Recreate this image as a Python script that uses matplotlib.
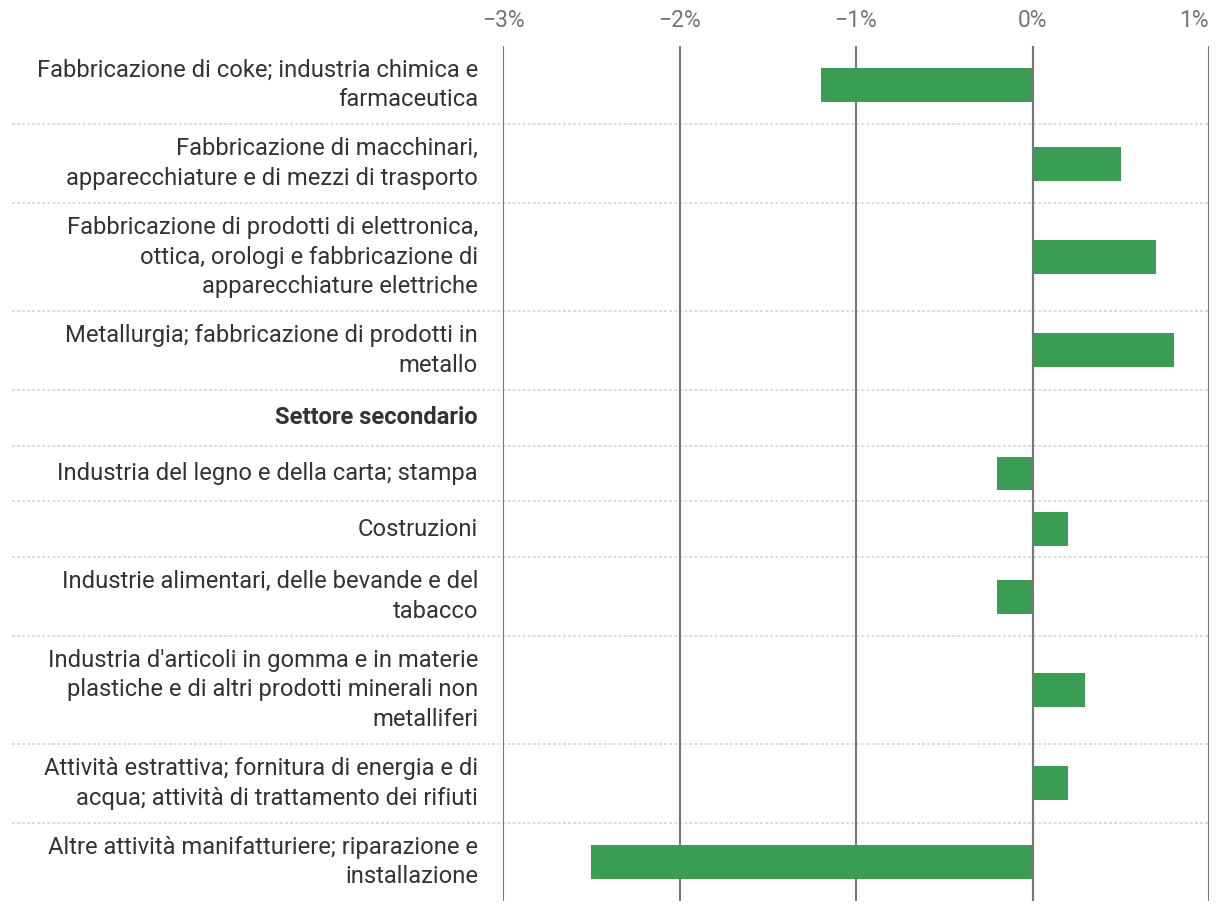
import numpy as np
import matplotlib
matplotlib.use("Agg")
import matplotlib.pyplot as plt

plt.rcParams['font.family'] = ['Roboto', 'DejaVu Sans']

# data
labels = [
    "Fabbricazione di coke; industria chimica e\nfarmaceutica",
    "Fabbricazione di macchinari,\napparecchiature e di mezzi di trasporto",
    "Fabbricazione di prodotti di elettronica,\nottica, orologi e fabbricazione di\napparecchiature elettriche",
    "Metallurgia; fabbricazione di prodotti in\nmetallo",
    "Settore secondario",
    "Industria del legno e della carta; stampa",
    "Costruzioni",
    "Industrie alimentari, delle bevande e del\ntabacco",
    "Industria d'articoli in gomma e in materie\nplastiche e di altri prodotti minerali non\nmetalliferi",
    "Attività estrattiva; fornitura di energia e di\nacqua; attività di trattamento dei rifiuti",
    "Altre attività manifatturiere; riparazione e\ninstallazione",
]
values = [-1.2, 0.5, 0.7, 0.8, np.nan, -0.2, 0.2, -0.2, 0.3, 0.2, -2.5]
bold_labels = ["Settore secondario"]
tick_values = [-3, -2, -1, 0, 1]
tick_labels = ["\u22123%", "\u22122%", "\u22121%", "0%", "1%"]

# row heights (pixels) depend on how many lines the label has
row_height = {1: 56, 2: 78.5, 3: 108.5}
heights = [row_height[lab.count("\n") + 1] for lab in labels]
bounds = np.concatenate([[0], np.cumsum(heights)])
centers = (bounds[:-1] + bounds[1:]) / 2

fig = plt.figure(figsize=(12.2, 9.14), dpi=100)
ax = fig.add_axes([503 / 1220, 13 / 914, 706 / 1220, 855 / 914])

ax.set_xlim(-3, 1)
ax.set_ylim(bounds[-1], 0)

for t in tick_values:
    ax.axvline(t, color='#777777', lw=1.5, zorder=1)

ax.barh(centers, values, height=34, color='#399e51', zorder=2)
ax.axvline(0, color='#777777', lw=1.5, zorder=3)

# dotted row separators running under the labels too
sep_tr = ax.get_yaxis_transform()
for b in bounds[1:-1]:
    ax.plot([-491 / 706, 1], [b, b], transform=sep_tr, color='#d9d9d9',
            lw=1.3, ls=(0, (1.6, 1.2)), clip_on=False, zorder=0)

for y, lab in zip(centers, labels):
    ax.text(-25 / 706, y, lab, transform=sep_tr, ha='right', va='center',
            fontsize=17.1, color='#333333', linespacing=1.36,
            fontweight='bold' if lab in bold_labels else 'normal')

ax.xaxis.tick_top()
ax.set_xticks(tick_values)
ax.set_xticklabels(tick_labels)
ax.tick_params(axis='x', length=0, pad=10, labelsize=16.5, labelcolor='#757575')
ax.get_xticklabels()[-1].set_horizontalalignment('right')
ax.set_yticks([])
for s in ax.spines.values():
    s.set_visible(False)

fig.savefig("out.png", dpi=100)
